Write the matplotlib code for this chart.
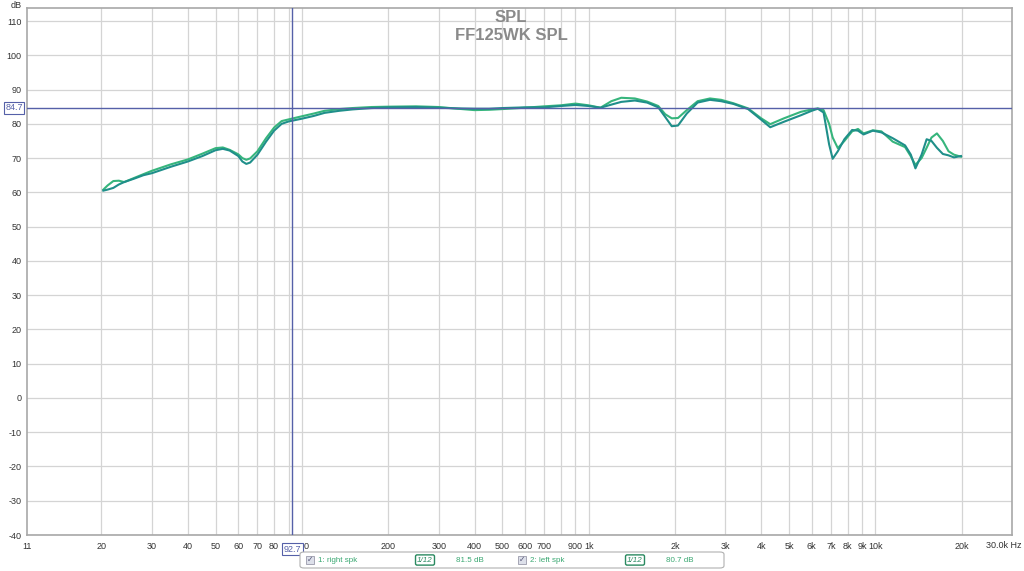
import matplotlib
matplotlib.use("Agg")
import matplotlib.pyplot as plt
from matplotlib.patches import FancyBboxPatch

plt.rcParams["font.family"] = ["Liberation Sans", "DejaVu Sans"]
plt.rcParams["axes.unicode_minus"] = False

# frequency points (Hz)
freq = [20.3, 21, 22, 23, 24, 26, 28, 30, 35, 40, 45, 50, 53, 56, 60, 62, 64,
        66, 70, 75, 80, 85, 90, 100, 110, 120, 135, 150, 175, 200, 250, 300,
        350, 400, 450, 500, 600, 700, 800, 900, 1000, 1100, 1200, 1300, 1450,
        1600, 1750, 1850, 1950, 2050, 2200, 2400, 2650, 2900, 3200, 3600, 4000,
        4300, 4800, 5500, 6000, 6300, 6600, 6900, 7100, 7400, 7800, 8300, 8700,
        9100, 9800, 10500, 11500, 12700, 13300, 13800, 14500, 15100, 15700,
        16400, 17200, 18000, 18800, 19900]

right_spk = [60.5, 60.8, 61.3, 62.3, 63.0, 64.0, 65.0, 65.6, 67.5, 69.0, 70.6,
             72.3, 72.7, 72.2, 70.6, 69.0, 68.3, 68.7, 71.0, 74.8, 78.0, 80.0,
             80.7, 81.5, 82.3, 83.2, 83.8, 84.2, 84.6, 84.8, 84.9, 84.7, 84.5,
             84.4, 84.4, 84.6, 84.8, 84.8, 85.2, 85.5, 85.2, 84.7, 85.6, 86.4,
             86.8, 86.2, 84.8, 82.0, 79.3, 79.5, 83.0, 86.2, 87.0, 86.6, 85.8,
             84.3, 81.2, 79.0, 80.6, 82.5, 83.8, 84.4, 83.3, 74.0, 69.8, 72.0,
             75.5, 78.2, 78.0, 76.9, 78.0, 77.5, 75.8, 73.7, 71.0, 67.0, 71.0,
             75.5, 75.0, 73.0, 71.2, 70.8, 70.2, 70.6]

left_spk = [60.8, 62.0, 63.3, 63.4, 63.0, 64.2, 65.3, 66.3, 68.2, 69.6, 71.3,
            72.9, 73.1, 72.4, 71.1, 70.0, 69.5, 69.9, 72.0, 75.8, 78.9, 80.8,
            81.3, 82.2, 83.0, 83.8, 84.3, 84.6, 84.9, 85.0, 85.1, 84.9, 84.4,
            84.0, 84.1, 84.3, 84.7, 85.1, 85.4, 85.9, 85.4, 84.7, 86.6, 87.6,
            87.4, 86.5, 85.2, 82.8, 81.6, 81.7, 84.0, 86.6, 87.4, 87.0, 86.0,
            84.5, 81.6, 79.9, 81.6, 83.5, 84.2, 84.5, 84.0, 80.0, 76.0, 72.9,
            75.0, 77.8, 78.5, 77.2, 78.1, 77.8, 74.8, 73.2, 70.5, 68.0, 70.0,
            73.0, 76.0, 77.2, 75.0, 72.0, 71.0, 70.4]

x_ticks = [11, 20, 30, 40, 50, 60, 70, 80, 100, 200, 300, 400, 500, 600, 700,
           900, 1000, 2000, 3000, 4000, 5000, 6000, 7000, 8000, 9000, 10000,
           20000, 30000]
x_labels = ["11", "20", "30", "40", "50", "60", "70", "80", "100", "200", "300",
            "400", "500", "600", "700", "900", "1k", "2k", "3k", "4k", "5k",
            "6k", "7k", "8k", "9k", "10k", "20k", "30.0k Hz"]
x_grid = [20, 30, 40, 50, 60, 70, 80, 90, 100, 200, 300, 400, 500, 600, 700,
          800, 900, 1000, 2000, 3000, 4000, 5000, 6000, 7000, 8000, 9000,
          10000, 20000]
y_ticks = list(range(-40, 111, 10))

cursor_freq = 92.7
cursor_db = 84.7

teal = "#1f8f8a"
green = "#36b57c"
cursor = "#5560a8"

fig = plt.figure(figsize=(10.24, 5.71), dpi=100)
ax = fig.add_axes([0.0264, 0.063, 0.962, 0.923])
ax.set_xscale("log")
ax.set_xlim(11, 30000)
ax.set_ylim(-40, 113.8)

for g in x_grid:
    ax.axvline(g, color="#d4d4d4", lw=0.9, zorder=0)
for t in y_ticks:
    ax.axhline(t, color="#d4d4d4", lw=0.9, zorder=0)

ax.plot(freq, left_spk, color=green, lw=1.5, zorder=3)
ax.plot(freq, right_spk, color=teal, lw=1.5, zorder=3)

ax.axvline(cursor_freq, color=cursor, lw=1.0, zorder=4)
ax.axhline(cursor_db, color=cursor, lw=1.0, zorder=4)

# last label drawn by hand so it can sit flush with the right edge
ax.set_xticks(x_ticks)
ax.set_xticklabels(x_labels[:-1] + [""])
ax.minorticks_off()
ax.set_yticks(y_ticks)
ax.tick_params(axis="both", length=0, labelsize=6.5, colors="#333333")
ax.tick_params(axis="x", pad=5)
ax.tick_params(axis="y", pad=4)
for s in ax.spines.values():
    s.set_color("#a8a8a8")
    s.set_linewidth(1.2)

fig.text(1021 / 1024, 1 - 546 / 571, x_labels[-1], ha="right", va="center",
         fontsize=6.5, color="#333333")
fig.text(22 / 1024, 1 - 5 / 571, "dB", ha="right", va="center",
         fontsize=6.5, color="#333333")

# cursor readouts
ax.text(-0.004, cursor_db, "84.7", transform=ax.get_yaxis_transform(),
        ha="right", va="center", fontsize=6.5, color=cursor, zorder=6,
        bbox=dict(boxstyle="square,pad=0.15", fc="white", ec=cursor, lw=0.8))
ax.text(cursor_freq, -0.018, "92.7", transform=ax.get_xaxis_transform(),
        ha="center", va="top", fontsize=6.5, color=cursor, zorder=6,
        bbox=dict(boxstyle="square,pad=0.15", fc="white", ec=cursor, lw=0.8))

# title
fig.text(0.499, 0.970, "SPL", ha="center", va="center", fontsize=12,
         fontweight="bold", color="#8a8a8a")
fig.text(0.499, 0.938, "FF125WK SPL", ha="center", va="center", fontsize=12,
         fontweight="bold", color="#8a8a8a")

# legend strip
box = FancyBboxPatch((300 / 1024, 3 / 571), 424 / 1024, 16 / 571,
                     boxstyle="round,pad=0,rounding_size=0.004",
                     transform=fig.transFigure, fc="white", ec="#b0b0b0",
                     lw=0.8)
fig.patches.append(box)

legend_green = "#3aa872"
entries = [(310, "1: right spk", 425, "81.5 dB"),
           (522, "2: left spk", 635, "80.7 dB")]
for cx, name, ix, level in entries:
    fig.text(cx / 1024, 11 / 571, "\u2713", ha="center", va="center",
             fontsize=5.5, color="#555577",
             bbox=dict(boxstyle="square,pad=0.12", fc="#dde0ea", ec="#9a9aaa",
                       lw=0.6))
    fig.text((cx + 8) / 1024, 11 / 571, name, ha="left", va="center",
             fontsize=5.8, color=legend_green)
    fig.text(ix / 1024, 11 / 571, "1/12", ha="center", va="center",
             fontsize=5.8, color="#2a8a60", style="italic",
             bbox=dict(boxstyle="round,pad=0.2", fc="white", ec="#2a8a60",
                       lw=1.0))
    fig.text((ix + 45) / 1024, 11 / 571, level, ha="center", va="center",
             fontsize=5.8, color=legend_green)

fig.savefig("out.png", dpi=100, facecolor="white")
